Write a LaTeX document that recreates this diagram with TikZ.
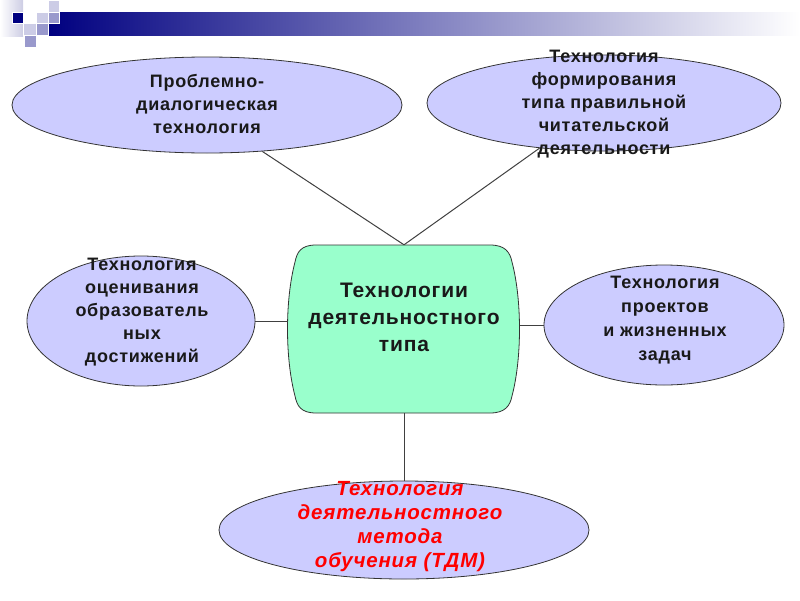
\documentclass[tikz,border=0pt]{standalone}
\usepackage{fontspec}
\newfontfamily\lsf[LetterSpace=4]{Liberation Sans}
\usetikzlibrary{shapes.geometric}
\definecolor{bubfill}{RGB}{204,204,255}
\definecolor{mint}{RGB}{153,255,204}
\definecolor{navyb}{RGB}{0,0,128}
\definecolor{midsq}{RGB}{153,153,204}
\definecolor{lightsq}{RGB}{204,204,230}
\definecolor{fadesq}{RGB}{205,205,228}
\definecolor{redtxt}{RGB}{255,0,0}
\tikzset{
  bub/.style={ellipse, draw=black!80, fill=bubfill, line width=0.8pt, inner sep=0pt},
  lbl/.style={align=center, inner sep=0pt, text=black!90,
    font=\lsf\bfseries\fontsize{18}{23}\selectfont},
  biglbl/.style={align=center, inner sep=0pt, text=black!90,
    font=\lsf\bfseries\fontsize{21}{27}\selectfont},
  redlbl/.style={align=center, inner sep=0pt, text=redtxt,
    font=\lsf\bfseries\itshape\fontsize{20.5}{24}\selectfont},
  link/.style={draw=black!75, line width=1pt},
  sq/.style={draw=white, line width=0.6pt}
}
\begin{document}
\begin{tikzpicture}[x=1pt,y=-1pt]
\useasboundingbox (0,0) rectangle (800,600);
% banner
\shade[left color=white, right color=fadesq] (0,0) rectangle (23,36);
\shade[left color=navyb, right color=white] (48,12) rectangle (800,35);
\fill[navyb, sq] (12,12) rectangle (23,23);
\fill[lightsq, sq] (36,12) rectangle (48,23);
\fill[lightsq, sq] (48,0) rectangle (59,12);
\fill[midsq, sq] (48,12) rectangle (59,23);
\fill[lightsq, sq] (23,23) rectangle (36,35);
\fill[midsq, sq] (36,23) rectangle (48,35);
\fill[midsq, sq] (24,35) rectangle (36,47);
% ellipses
\node[bub, minimum width=390pt, minimum height=96pt] (tl) at (207,105) {};
\node[bub, minimum width=354pt, minimum height=96pt] (tr) at (604,103) {};
\node[bub, minimum width=228pt, minimum height=130pt] (l) at (141,321) {};
\node[bub, minimum width=240pt, minimum height=120pt] (r) at (664,325) {};
\node[bub, minimum width=370pt, minimum height=98pt] (b) at (404,530) {};
% central shape
\draw[draw=black!80, fill=mint, line width=0.8pt]
  (316,245) -- (490,245) .. controls (505,245) and (510,252) .. (512,262)
  .. controls (522,300) and (522,358) .. (512,396)
  .. controls (510,406) and (505,413) .. (490,413) -- (316,413)
  .. controls (301,413) and (297,406) .. (295,396)
  .. controls (285,358) and (285,300) .. (295,262)
  .. controls (297,252) and (301,245) .. (316,245) -- cycle;
\node[minimum width=232pt, minimum height=168pt, inner sep=0pt] (c) at (404,329) {};
% connectors
\draw[link] (tl.320) -- (c.north);
\draw[link] (tr.215) -- (c.north);
\draw[link] (l.east) -- (l.east -| c.west);
\draw[link] (c.east |- r.west) -- (r.west);
\draw[link] (c.south) -- (b.north);
% texts
\node[lbl] (tlt) at (207,104) {Проблемно-\\диалогическая\\технология};
\node[lbl] (trt) at (604,104) {Технология\\формирования\\типа правильной\\читательской\\деятельности};
\node[lbl] (lt) at (142,312) {Технология\\оценивания\\образователь\\ных\\достижений};
\node[lbl, font=\lsf\bfseries\fontsize{18}{24}\selectfont] (rt) at (665,320) {Технология\\проектов\\и жизненных\\задач};
\node[biglbl] (ct) at (404,317) {Технологии\\деятельностного\\типа};
\node[redlbl] (bt) at (400,527) {Технология\\деятельностного\\метода\\обучения (ТДМ)};
\end{tikzpicture}
\end{document}
